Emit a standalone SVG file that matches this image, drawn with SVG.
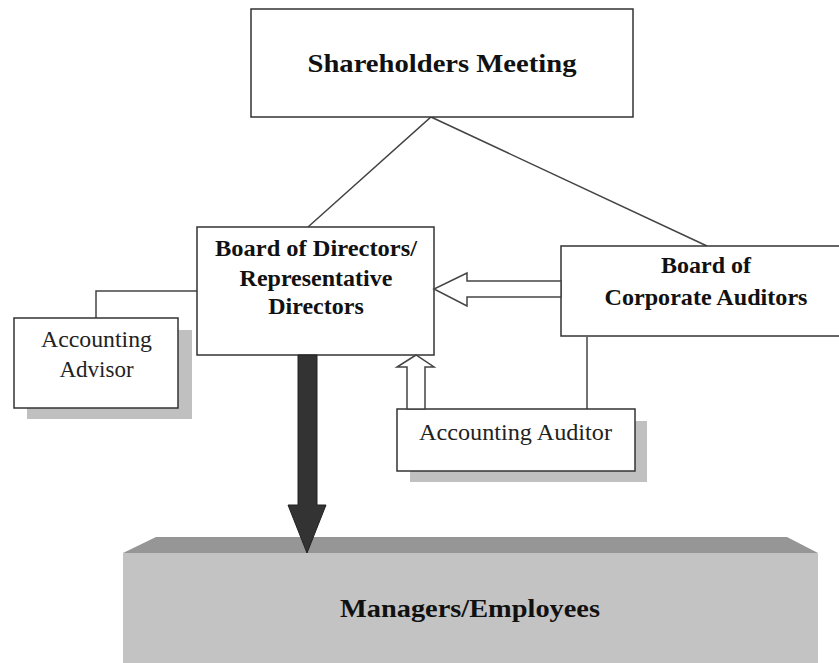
<svg xmlns="http://www.w3.org/2000/svg" width="839" height="663" viewBox="0 0 839 663">
  <style>
    .box { fill: #ffffff; stroke: #333333; stroke-width: 1.5; }
    .shadow { fill: #c0c0c0; }
    .line { fill: none; stroke: #444444; stroke-width: 1.5; }
    .hollow { fill: #ffffff; stroke: #444444; stroke-width: 1.5; stroke-linejoin: miter; }
    .bold { font-family: "Liberation Serif", "Times New Roman", serif; font-weight: bold; fill: #111111; text-anchor: middle; }
    .reg { font-family: "Liberation Serif", "Times New Roman", serif; fill: #222222; text-anchor: middle; }
  </style>
  <rect width="839" height="663" fill="#ffffff"/>

  <!-- plain connector lines -->
  <g id="connectors">
    <polyline class="line" points="308,227 431,117 707,246"/>
    <polyline class="line" points="96,318 96,291 197,291"/>
    <line class="line" x1="587" y1="337" x2="587" y2="409"/>
  </g>

  <!-- Managers / Employees slab -->
  <g id="managers">
    <polygon points="123,553 156,537 787,537 818,553" fill="#969696"/>
    <rect x="123" y="553" width="695" height="110" fill="#c3c3c3"/>
    <text class="bold" x="470" y="617" font-size="26" textLength="260" lengthAdjust="spacingAndGlyphs">Managers/Employees</text>
  </g>

  <g id="shareholders">
    <rect class="box" x="251" y="9" width="382" height="108"/>
    <text class="bold" x="442" y="72" font-size="26" textLength="269" lengthAdjust="spacingAndGlyphs">Shareholders Meeting</text>
  </g>

  <g id="board-directors">
    <rect class="box" x="197" y="227" width="237" height="128"/>
    <text class="bold" x="316" y="256" font-size="24" textLength="202" lengthAdjust="spacingAndGlyphs">Board of Directors/</text>
    <text class="bold" x="316" y="286" font-size="24">Representative</text>
    <text class="bold" x="316" y="314" font-size="24">Directors</text>
  </g>

  <g id="corporate-auditors">
    <rect class="box" x="561" y="246" width="280" height="90"/>
    <text class="bold" x="706" y="273" font-size="24">Board of</text>
    <text class="bold" x="706" y="305" font-size="24" textLength="203" lengthAdjust="spacingAndGlyphs">Corporate Auditors</text>
  </g>

  <g id="accounting-advisor">
    <rect class="shadow" x="27" y="330" width="165" height="89"/>
    <rect class="box" x="14" y="318" width="164" height="90"/>
    <text class="reg" x="96.5" y="347" font-size="23" textLength="111" lengthAdjust="spacingAndGlyphs">Accounting</text>
    <text class="reg" x="96.5" y="377" font-size="23">Advisor</text>
  </g>

  <g id="accounting-auditor">
    <rect class="shadow" x="410" y="421" width="237" height="61"/>
    <rect class="box" x="397" y="409" width="238" height="62"/>
    <text class="reg" x="515.5" y="440" font-size="23" textLength="193" lengthAdjust="spacingAndGlyphs">Accounting Auditor</text>
  </g>

  <!-- block arrows -->
  <g id="arrows">
    <polygon class="hollow" points="561,281 467,281 467,273 434,289 467,306 467,297 561,297"/>
    <polygon class="hollow" points="407,409 407,367 397,367 416,355 434,367 425,367 425,409"/>
    <polygon points="298,355 317,355 317,505 326,505 307,553 288,505 298,505" fill="#333333" stroke="#222222" stroke-width="1"/>
  </g>
</svg>
